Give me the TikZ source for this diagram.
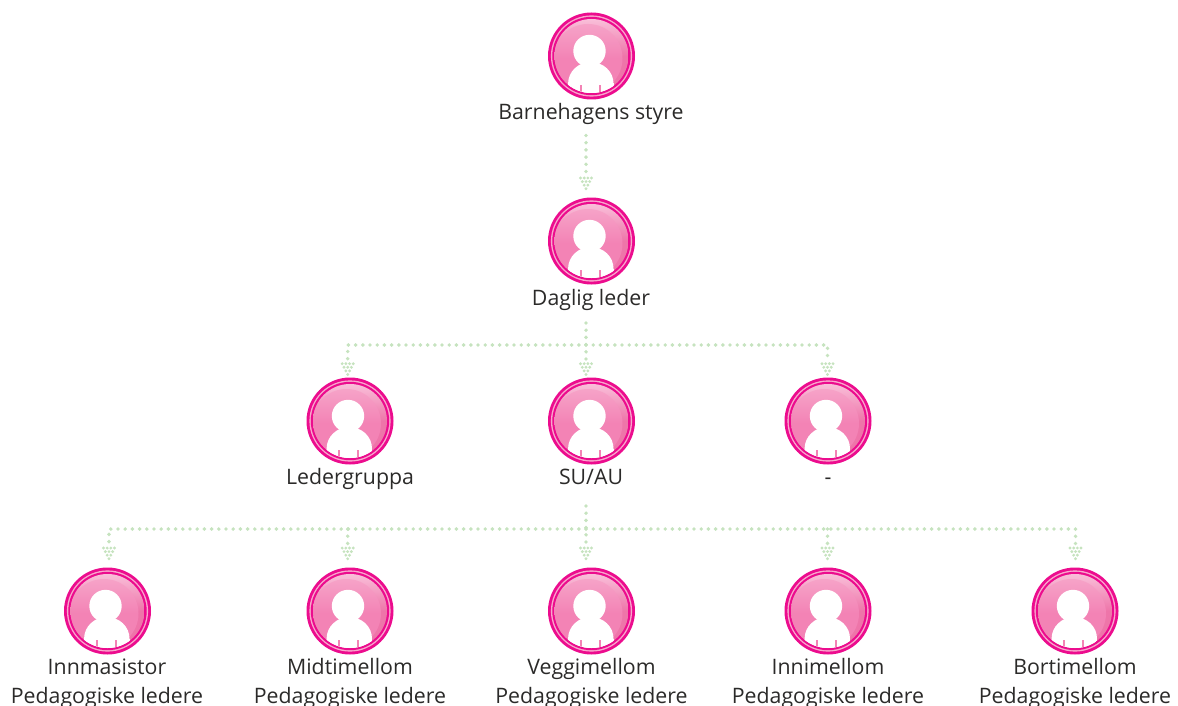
\documentclass[tikz,border=0pt]{standalone}
\usepackage{fontspec}
\setmainfont{Open Sans}
\definecolor{pinkd}{HTML}{EC0C8E}
\definecolor{pinkl}{HTML}{F8A8CC}
\definecolor{pinkm}{HTML}{F383B5}
\definecolor{pinkh}{HTML}{F9BFD9}
\definecolor{pinkk}{HTML}{F6A3C8}
\definecolor{pinks}{HTML}{EE75A9}
\definecolor{dotc}{HTML}{C6E3BF}
\definecolor{txt}{HTML}{2B2A29}
\tikzset{
  x=1pt,y=-1pt,
  avatar/.style={circle,inner sep=0pt,minimum size=87pt,fill=pinkd,draw=none,
    path picture={
      \begin{scope}[shift={(path picture bounding box.center)}]
        \fill[pinkl] (0,0) circle (40.6);
        \fill[pinkd] (0,0) circle (39.2);
        \begin{scope}
          \clip (0,0) circle (37);
          \shade[top color=pinkh,bottom color=pinks,middle color=pinks] (-37,-37) rectangle (37,37);
          \shade[top color=pinkk,bottom color=pinkm,middle color=pinkm] (-3.5,2.5) circle (34.5);
          \fill[white] (-2,-5) circle (16.2);
          \fill[white] (-0.7,27.5) ellipse (22.7 and 21.5);
          \fill[white] (-23.4,27.5) rectangle (22,40);
          \fill[pinkm] (-11.8,29) rectangle (-9.8,40);
          \fill[pinkm] (7,29) rectangle (9,40);
        \end{scope}
      \end{scope}}},
  lab/.style={align=center,font=\fontsize{21.3}{30}\selectfont,text=txt,inner sep=0pt,anchor=base},
  conn/.style={draw=dotc,line width=3.9pt,line cap=round,dash pattern=on 0pt off 7.2pt},
  tipdots/.pic={
    \foreach \r/\n in {0/4,1/3,2/2,3/1}{
      \foreach \i in {1,...,\n}{
        \fill[dotc] ({(\i-(\n+1)/2)*3.7},{\r*3.6}) circle (1.6);
      }
    }
  }
}
\begin{document}
\begin{tikzpicture}
\useasboundingbox (0,0) rectangle (1178,706);
\node[avatar] (a1) at (591.5,56) {};
\node[avatar] (a2) at (591.5,241) {};
\node[avatar] (b1) at (350,421) {};
\node[avatar] (b2) at (591.5,421) {};
\node[avatar] (b3) at (828,421) {};
\node[avatar] (c1) at (107.5,611) {};
\node[avatar] (c2) at (350,611) {};
\node[avatar] (c3) at (591.5,611) {};
\node[avatar] (c4) at (828,611) {};
\node[avatar] (c5) at (1075,611) {};

\node[lab] (ta1) at (591,119.5) {Barnehagens styre};
\node[lab] (ta2) at (591,305) {Daglig leder};
\node[lab] (tb1) at (350,484) {Ledergruppa};
\node[lab] (tb2) at (591,484) {SU/AU};
\node[lab] (tb3) at (828,484) {-};
\node[lab] (tc1) at (107,674) {Innmasistor};
\node[lab] (tc1b) at (107,703) {Pedagogiske ledere};
\node[lab] (tc2) at (350,674) {Midtimellom};
\node[lab] (tc2b) at (350,703) {Pedagogiske ledere};
\node[lab] (tc3) at (591.5,674) {Veggimellom};
\node[lab] (tc3b) at (591.5,703) {Pedagogiske ledere};
\node[lab] (tc4) at (828,674) {Innimellom};
\node[lab] (tc4b) at (828,703) {Pedagogiske ledere};
\node[lab] (tc5) at (1075,674) {Bortimellom};
\node[lab] (tc5b) at (1075,703) {Pedagogiske ledere};

% connector end points
\coordinate (s1) at (586,135.5);
\coordinate (e1) at (586,173);
\coordinate (s2) at (586,323);
\coordinate (h2) at (586,345);
\coordinate (hl2) at (347.7,345);
\coordinate (hr2) at (827.5,345);
\coordinate (e2a) at (347.7,360);
\coordinate (e2b) at (586,360);
\coordinate (e2c) at (827.5,360);
\coordinate (s3) at (586,506);
\coordinate (h3) at (586,529);
\coordinate (hl3) at (109,529);
\coordinate (hm3) at (347.7,529);
\coordinate (hn3) at (827.5,529);
\coordinate (hr3) at (1075.5,529);
\coordinate (e3a) at (109,544);
\coordinate (e3b) at (347.7,544);
\coordinate (e3c) at (586,544);
\coordinate (e3d) at (827.5,544);
\coordinate (e3e) at (1075.5,544);

\draw[conn] (s1) -- (e1);
\pic at (586,178) {tipdots};

\draw[conn] (s2) -- (e2b);
\draw[conn] (h2) -- (hl2) -- (e2a);
\draw[conn] (h2) -- (hr2) -- (e2c);
\pic at (347.7,363.7) {tipdots};
\pic at (586,363.7) {tipdots};
\pic at (827.5,363.7) {tipdots};

\draw[conn] (s3) -- (e3c);
\draw[conn] (h3) -- (hl3) -- (e3a);
\draw[conn] (h3) -- (hr3) -- (e3e);
\draw[conn] (hm3) -- (e3b);
\draw[conn] (hn3) -- (e3d);
\pic at (109,548) {tipdots};
\pic at (347.7,548) {tipdots};
\pic at (586,548) {tipdots};
\pic at (827.5,548) {tipdots};
\pic at (1075.5,548) {tipdots};
\end{tikzpicture}
\end{document}
